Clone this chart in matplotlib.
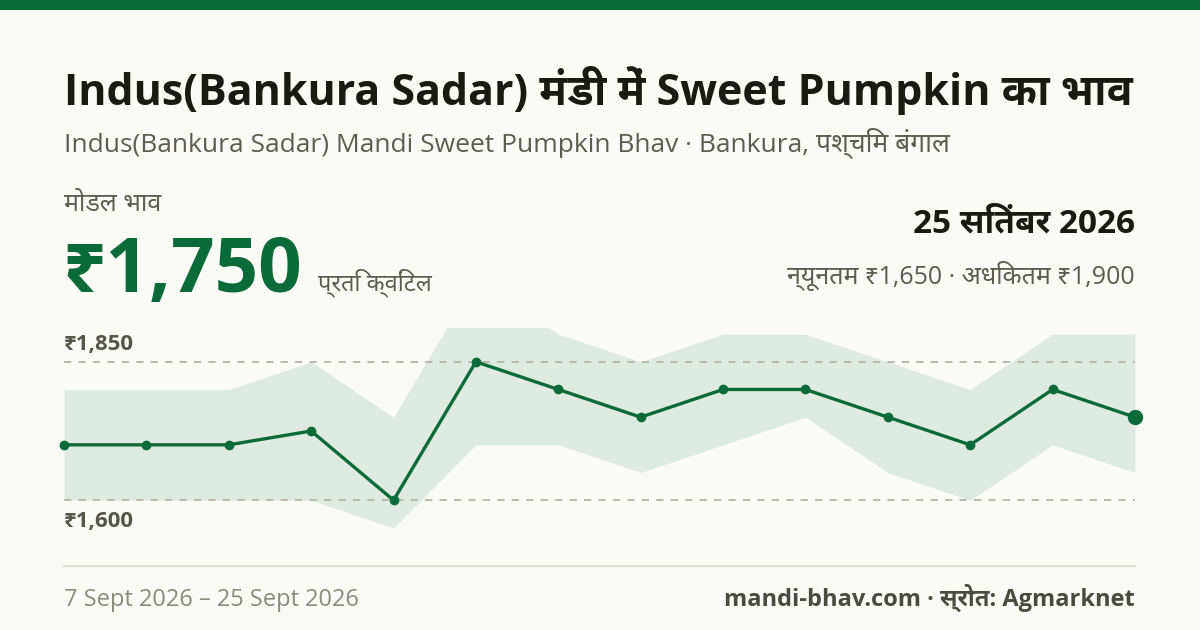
import matplotlib
matplotlib.use('Agg')
import matplotlib.pyplot as plt
from matplotlib.patches import Rectangle
from matplotlib.lines import Line2D

# 数据: 7 - 25 Sept 2026 (14 trading days)
dates = ['7 Sept', '8 Sept', '9 Sept', '10 Sept', '11 Sept', '12 Sept', '14 Sept',
         '15 Sept', '16 Sept', '17 Sept', '18 Sept', '22 Sept', '23 Sept', '25 Sept']
modal_price = [1700, 1700, 1700, 1725, 1600, 1850, 1800, 1750, 1800, 1800, 1750, 1700, 1800, 1750]
min_price = [1600, 1600, 1600, 1600, 1550, 1700, 1700, 1650, 1700, 1750, 1650, 1600, 1700, 1650]
max_price = [1800, 1800, 1800, 1850, 1750, 2000, 1900, 1850, 1900, 1900, 1850, 1800, 1900, 1900]
grid_levels = [1850, 1600]

GREEN = '#0b6b38'
BG = '#fafbf7'
FONTS = ['Open Sans', 'Noto Sans Devanagari UI', 'DejaVu Sans']

plt.rcParams['font.family'] = FONTS

W, H = 1200, 630
fig = plt.figure(figsize=(W / 100, H / 100), dpi=100, facecolor=BG)


def fx(px):
    return px / W


def fy(py):
    return 1 - py / H


# 顶部绿色条
fig.patches.append(Rectangle((0, fy(10)), 1, 10 / H, transform=fig.transFigure,
                             facecolor=GREEN, edgecolor='none'))

# 标题
fig.text(fx(64), fy(105), 'Indus(Bankura Sadar) मंडी में Sweet Pumpkin का भाव',
         fontsize=31, weight='bold', color='#1a1a14', va='baseline', ha='left')
fig.text(fx(64), fy(152), 'Indus(Bankura Sadar) Mandi Sweet Pumpkin Bhav · Bankura, पश्चिम बंगाल',
         fontsize=19, color='#5c5c52', va='baseline', ha='left')

# 当前价格
fig.text(fx(64), fy(211), 'मोडल भाव', fontsize=18, color='#5c5c52', va='baseline')
fig.text(fx(62), fy(292), f'₹{modal_price[-1]:,}', fontsize=55, weight='bold',
         color=GREEN, va='baseline')
fig.text(fx(318), fy(290), 'प्रति क्विंटल', fontsize=17, color='#5c5c52', va='baseline')

fig.text(fx(1135), fy(232), '25 सितंबर 2026', fontsize=24, weight='bold',
         color='#1a1a14', va='baseline', ha='right')
fig.text(fx(1135), fy(284), f'न्यूनतम ₹{min_price[-1]:,} · अधिकतम ₹{max_price[-1]:,}',
         fontsize=18, color='#5c5c52', va='baseline', ha='right')

# 图表区域
ax = fig.add_axes([fx(64), fy(534), fx(1135) - fx(64), (534 - 328) / H])
ax.set_facecolor('none')
x = list(range(len(modal_price)))
ax.fill_between(x, min_price, max_price, color='#dfeae2', linewidth=0, zorder=1)
for lvl in grid_levels:
    ax.axhline(lvl, color='#b5b5ad', linestyle=(0, (4, 4)), linewidth=1.3, zorder=2)
ax.plot(x, modal_price, color=GREEN, linewidth=2.4, marker='o', markersize=6,
        zorder=3, clip_on=False)
ax.plot(x[-1], modal_price[-1], 'o', color=GREEN, markersize=10, zorder=4, clip_on=False)
ax.set_xlim(0, len(x) - 1)
ax.set_ylim(1539, 1911)
ax.axis('off')

ax.annotate(f'₹{grid_levels[0]:,}', xy=(0, grid_levels[0]), xytext=(0, 5),
            textcoords='offset points', fontsize=16, weight='bold', color='#55554b',
            ha='left', va='bottom')
ax.annotate(f'₹{grid_levels[1]:,}', xy=(0, grid_levels[1]), xytext=(0, -8),
            textcoords='offset points', fontsize=16, weight='bold', color='#55554b',
            ha='left', va='top')

# 底部
fig.lines.append(Line2D([fx(64), fx(1135)], [fy(566), fy(566)], transform=fig.transFigure,
                        color='#e2e2da', linewidth=1.6))
fig.text(fx(64), fy(606), '7 Sept 2026 – 25 Sept 2026', fontsize=17, color='#8a8a80',
         va='baseline', ha='left')
fig.text(fx(1135), fy(606), 'mandi-bhav.com · स्रोत: Agmarknet', fontsize=17, weight='bold',
         color='#4a4a42', va='baseline', ha='right')

fig.savefig('out.png', dpi=100, facecolor=BG)
